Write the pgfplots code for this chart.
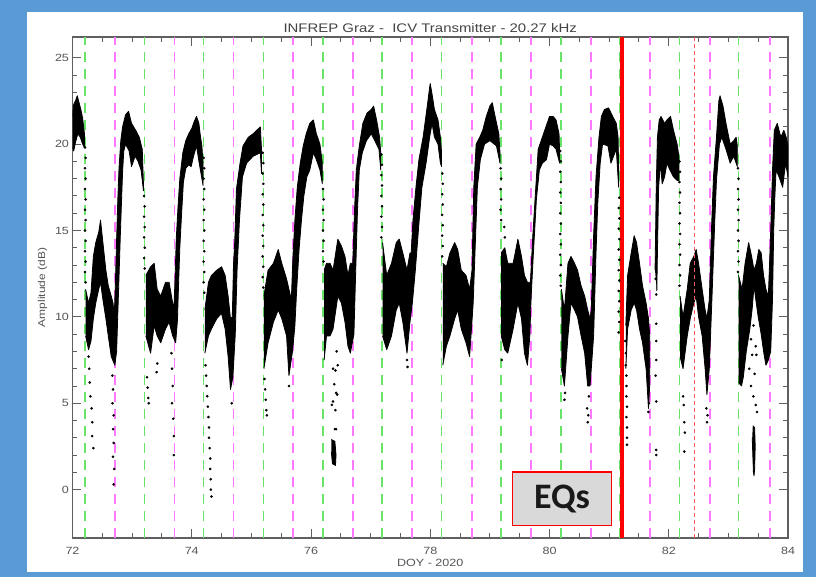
\documentclass[border=0pt]{standalone}
\usepackage{pgfplots}
\pgfplotsset{compat=1.18}
\usepackage{fontspec}
\setmainfont{Liberation Sans}[FakeStretch=1.2]
\newfontfamily\eqfont{Carlito}
\definecolor{frameblue}{RGB}{91,155,213}
\definecolor{vgreen}{RGB}{105,228,105}
\definecolor{vmag}{RGB}{255,120,255}
\definecolor{vred}{RGB}{255,90,90}
\definecolor{txtgray}{RGB}{85,85,85}
\definecolor{axgray}{RGB}{95,95,95}
\definecolor{eqgray}{RGB}{217,217,217}
\begin{document}
\begin{tikzpicture}
\useasboundingbox (0,0) rectangle (816bp,577bp);
\fill[frameblue] (0,0) rectangle (816bp,577bp);
\fill[white] (27bp,5bp) rectangle (803bp,565bp);
\begin{axis}[
  at={(72.5bp,39bp)}, anchor=south west,
  scale only axis, width=715.5bp, height=501bp,
  xmin=72, xmax=84, ymin=-2.8, ymax=26.2,
  xtick={72,74,...,84}, minor x tick num=3,
  ytick={0,5,...,25}, minor y tick num=4,
  tick align=inside,
  major tick length=9bp, minor tick length=5bp,
  axis line style={axgray, line width=1.3bp},
  every tick/.style={axgray, line width=0.9bp},
  /pgf/number format/assume math mode=true,
  ticklabel style={font=\fontsize{10.5}{12}\selectfont, text=txtgray},
  xticklabel style={anchor=center, yshift=-13bp},
  every axis title shift=0pt,
  title={INFREP Graz -\ \ ICV Transmitter - 20.27 kHz},
  title style={at={(axis description cs:0.5,1.017)}, anchor=center, font=\fontsize{12.5}{14}\selectfont, text=txtgray!80!black},
  xlabel={DOY - 2020},
  xlabel style={at={(axis description cs:0.5,-0.05)}, anchor=center, font=\fontsize{10.5}{12}\selectfont, text=txtgray},
  ylabel={Amplitude (dB)},
  ylabel style={at={(axis description cs:-0.042,0.5)}, anchor=center, font=\fontsize{10}{12}\selectfont, text=txtgray},
  band/.style={draw=black, fill=black, line width=0.8bp, line join=round},
  dots/.style={only marks, mark=*, mark size=1.1bp, black},
]
% sunrise / sunset lines
\pgfplotsinvokeforeach{72.21,73.21,74.20,75.20,76.20,77.19,78.19,79.19,80.19,81.18,82.18,83.17}{
  \addplot[vgreen, line width=1.5bp, dash pattern=on 10bp off 7bp] coordinates {(#1,-2.8) (#1,26.2)};
}
\pgfplotsinvokeforeach{72.71,73.71,74.70,75.70,76.70,77.70,78.70,79.69,80.69,81.69,82.69,83.70}{
  \addplot[vmag, line width=1.8bp, dash pattern=on 10bp off 7bp] coordinates {(#1,-2.8) (#1,26.2)};
}
% signal bands
\addplot[band] coordinates {(72.00,21.6) (72.02,22.3) (72.05,22.5) (72.08,22.8) (72.11,22.4) (72.14,22.0) (72.17,21.5) (72.20,20.6) (72.20,19.8) (72.17,20.0) (72.13,20.4) (72.09,20.6) (72.05,20.1) (72.02,19.6) (72.00,19.8)};
\addplot[band] coordinates {(72.22,11.6) (72.27,10.8) (72.31,11.4) (72.35,13.5) (72.39,14.3) (72.44,14.9) (72.47,15.6) (72.51,14.3) (72.56,12.7) (72.60,11.8) (72.65,11.2) (72.68,10.8) (72.70,10.0) (72.72,12.0) (72.74,14.5) (72.76,16.8) (72.78,18.6) (72.81,20.2) (72.84,21.0) (72.89,21.7) (72.94,21.9) (72.99,21.2) (73.06,20.8) (73.12,20.4) (73.17,19.7) (73.19,17.7) (73.19,17.3) (73.15,18.5) (73.10,19.0) (73.05,19.3) (72.99,18.7) (72.95,19.6) (72.89,20.0) (72.86,19.6) (72.84,18.4) (72.82,16.5) (72.80,14.5) (72.78,12.3) (72.76,10.2) (72.74,8.0) (72.71,7.2) (72.65,7.7) (72.60,8.9) (72.56,9.9) (72.51,11.0) (72.47,12.0) (72.44,11.6) (72.39,10.8) (72.35,9.9) (72.31,8.6) (72.27,8.1) (72.22,8.9)};
\addplot[band] coordinates {(73.23,12.4) (73.31,12.9) (73.37,13.1) (73.42,11.6) (73.48,11.2) (73.56,12.0) (73.62,12.0) (73.68,10.8) (73.70,10.4) (73.72,12.2) (73.74,14.5) (73.77,16.4) (73.80,18.0) (73.85,19.5) (73.90,20.2) (73.95,20.6) (74.00,20.9) (74.04,21.3) (74.08,21.6) (74.12,21.2) (74.14,20.6) (74.17,19.9) (74.19,18.8) (74.19,17.6) (74.16,18.2) (74.12,19.0) (74.08,19.9) (74.03,19.3) (73.99,18.7) (73.95,18.8) (73.90,18.6) (73.86,17.8) (73.83,16.0) (73.80,14.0) (73.78,12.0) (73.76,9.8) (73.73,8.5) (73.68,8.9) (73.62,9.7) (73.56,9.3) (73.48,8.5) (73.42,8.9) (73.37,9.5) (73.31,7.9) (73.23,8.9)};
\addplot[band] coordinates {(74.22,10.4) (74.28,12.0) (74.33,12.4) (74.42,12.7) (74.50,12.9) (74.56,12.4) (74.61,11.2) (74.65,9.9) (74.68,10.0) (74.70,13.0) (74.72,14.3) (74.75,17.4) (74.81,18.9) (74.86,19.9) (74.95,20.4) (75.03,20.6) (75.12,20.9) (75.15,21.0) (75.17,19.7) (75.17,18.3) (75.15,19.5) (75.03,19.3) (74.92,18.9) (74.85,18.1) (74.80,15.6) (74.76,12.7) (74.73,9.0) (74.69,6.5) (74.65,5.8) (74.61,7.7) (74.56,9.3) (74.50,10.2) (74.42,9.9) (74.33,9.3) (74.28,8.9) (74.22,7.9)};
\addplot[band] coordinates {(75.21,11.2) (75.28,12.7) (75.37,13.1) (75.45,13.9) (75.51,13.1) (75.59,12.2) (75.63,11.6) (75.67,11.0) (75.70,13.7) (75.73,15.6) (75.77,17.5) (75.82,18.9) (75.87,19.9) (75.92,20.6) (75.98,21.2) (76.04,21.4) (76.09,20.6) (76.15,20.0) (76.19,18.9) (76.19,17.7) (76.15,18.5) (76.09,19.1) (76.04,19.5) (75.98,18.5) (75.93,18.1) (75.88,17.0) (75.84,15.6) (75.80,13.9) (75.76,11.6) (75.73,9.5) (75.69,8.0) (75.63,6.6) (75.59,8.9) (75.51,9.9) (75.45,10.4) (75.37,9.7) (75.28,8.5) (75.21,7.0)};
\addplot[band] coordinates {(76.22,12.7) (76.26,13.1) (76.32,13.1) (76.37,12.7) (76.45,14.5) (76.51,14.1) (76.57,13.5) (76.62,12.4) (76.66,13.1) (76.70,13.1) (76.73,16.2) (76.76,18.5) (76.81,19.9) (76.87,21.2) (76.94,21.8) (77.01,22.0) (77.05,22.2) (77.10,21.4) (77.15,20.4) (77.17,19.5) (77.17,18.5) (77.14,19.7) (77.07,20.2) (77.01,20.6) (76.93,20.2) (76.86,19.5) (76.81,18.5) (76.78,16.2) (76.75,12.7) (76.72,9.0) (76.66,7.9) (76.62,8.3) (76.57,9.7) (76.51,10.8) (76.45,11.2) (76.37,9.3) (76.32,8.9) (76.26,8.9) (76.22,7.5)};
\addplot[band] coordinates {(77.20,14.3) (77.27,12.4) (77.35,13.1) (77.43,14.3) (77.48,14.5) (77.54,13.7) (77.61,12.7) (77.66,13.7) (77.68,13.7) (77.71,15.6) (77.76,17.5) (77.81,19.1) (77.88,20.4) (77.95,22.2) (77.99,23.3) (78.00,23.5) (78.03,22.9) (78.07,22.0) (78.13,21.4) (78.17,20.4) (78.19,19.5) (78.19,18.7) (78.17,18.9) (78.13,20.0) (78.07,20.4) (78.03,21.2) (77.99,20.4) (77.93,18.9) (77.86,17.5) (77.81,15.4) (77.75,12.7) (77.70,10.8) (77.66,9.7) (77.61,7.9) (77.54,9.7) (77.48,10.8) (77.43,10.4) (77.35,8.9) (77.27,8.1) (77.20,8.9)};
\addplot[band] coordinates {(78.21,13.1) (78.27,12.9) (78.33,13.7) (78.41,14.3) (78.46,13.9) (78.52,12.7) (78.60,12.4) (78.66,11.6) (78.70,12.7) (78.73,17.5) (78.77,20.0) (78.83,20.4) (78.88,20.8) (78.94,21.6) (79.00,22.2) (79.04,22.4) (79.10,21.4) (79.15,20.6) (79.17,19.5) (79.17,18.9) (79.11,19.9) (79.00,20.2) (78.91,20.0) (78.84,19.1) (78.79,17.5) (78.75,13.7) (78.72,10.8) (78.66,7.7) (78.60,8.5) (78.52,9.3) (78.46,10.4) (78.41,9.9) (78.33,8.9) (78.27,8.3) (78.21,7.2)};
\addplot[band] coordinates {(79.19,13.7) (79.25,14.0) (79.30,13.1) (79.39,13.1) (79.47,14.5) (79.53,13.5) (79.58,12.4) (79.63,12.0) (79.67,12.0) (79.68,12.0) (79.72,14.7) (79.77,17.5) (79.81,19.7) (79.86,20.2) (79.92,20.8) (79.98,21.4) (80.00,21.6) (80.06,21.6) (80.11,21.4) (80.16,20.6) (80.17,19.5) (80.17,18.9) (80.11,19.7) (80.06,19.9) (80.00,20.0) (79.95,19.1) (79.88,18.9) (79.83,18.5) (79.78,16.8) (79.73,13.7) (79.69,11.0) (79.67,8.9) (79.63,7.2) (79.58,7.9) (79.53,9.9) (79.47,10.8) (79.39,9.3) (79.30,7.9) (79.25,8.1) (79.19,8.9)};
\addplot[band] coordinates {(80.20,11.6) (80.25,10.4) (80.31,13.1) (80.36,13.5) (80.42,13.1) (80.47,12.7) (80.53,11.8) (80.59,11.2) (80.64,10.4) (80.68,9.9) (80.70,10.4) (80.74,14.7) (80.78,18.1) (80.83,20.4) (80.87,21.6) (80.92,22.0) (80.99,22.1) (81.06,21.6) (81.12,21.2) (81.15,20.4) (81.16,18.5) (81.16,17.5) (81.12,19.7) (81.03,18.9) (80.98,19.9) (80.89,20.0) (80.85,18.9) (80.81,16.6) (80.78,13.7) (80.74,8.9) (80.68,6.0) (80.64,6.0) (80.59,7.9) (80.53,8.9) (80.47,10.0) (80.42,10.4) (80.36,10.8) (80.31,8.9) (80.25,6.0) (80.20,7.0)};
\addplot[band] coordinates {(81.28,9.5) (81.31,12.4) (81.37,13.7) (81.42,14.7) (81.46,14.3) (81.51,13.1) (81.56,11.8) (81.62,10.8) (81.66,9.9) (81.68,9.0) (81.68,6.0) (81.66,4.7) (81.62,7.0) (81.56,8.5) (81.51,9.3) (81.46,10.4) (81.42,10.8) (81.37,10.4) (81.31,9.3) (81.28,7.0)};
\addplot[band] coordinates {(81.77,12.7) (81.78,15.0) (81.79,17.5) (81.81,20.4) (81.84,21.4) (81.87,21.6) (81.93,21.2) (81.97,21.4) (82.03,21.6) (82.08,20.8) (82.14,20.0) (82.17,19.3) (82.17,17.9) (82.14,17.9) (82.08,18.1) (82.02,18.5) (81.97,18.9) (81.93,18.1) (81.89,17.7) (81.86,18.9) (81.83,17.5) (81.81,13.7) (81.80,11.5)};
\addplot[band] coordinates {(82.19,11.2) (82.24,10.0) (82.31,11.6) (82.36,13.1) (82.42,13.5) (82.46,13.9) (82.50,13.1) (82.56,11.6) (82.61,10.4) (82.64,9.9) (82.68,11.0) (82.72,15.4) (82.75,18.1) (82.80,20.4) (82.84,22.5) (82.86,22.8) (82.91,22.2) (82.96,21.2) (83.03,20.0) (83.09,20.2) (83.13,20.4) (83.15,19.9) (83.15,18.7) (83.09,19.3) (83.03,18.9) (82.96,19.7) (82.89,20.4) (82.85,20.0) (82.80,17.9) (82.77,15.4) (82.73,11.6) (82.68,7.0) (82.64,5.5) (82.61,7.0) (82.56,8.9) (82.50,10.0) (82.46,11.2) (82.42,10.8) (82.36,9.9) (82.31,8.9) (82.24,7.0) (82.19,7.7)};
\addplot[band] coordinates {(83.17,12.4) (83.23,11.6) (83.28,13.1) (83.34,14.3) (83.39,13.5) (83.43,12.7) (83.47,13.1) (83.51,13.9) (83.55,13.7) (83.59,12.4) (83.63,11.6) (83.67,11.2) (83.69,13.0) (83.71,15.0) (83.74,18.5) (83.77,20.8) (83.82,21.2) (83.88,20.4) (83.93,20.8) (83.97,20.4) (84.00,19.9) (84.00,18.1) (83.96,18.9) (83.91,17.5) (83.85,18.1) (83.80,18.5) (83.78,17.0) (83.76,15.0) (83.74,11.0) (83.71,8.0) (83.67,7.5) (83.63,7.2) (83.59,8.0) (83.55,9.0) (83.50,10.0) (83.46,11.0) (83.43,11.8) (83.40,10.5) (83.36,9.3) (83.30,8.0) (83.25,6.5) (83.22,6.0) (83.17,6.2)};
% dense low clumps
\addplot[band] coordinates {(76.34,2.9) (76.40,2.8) (76.42,2.0) (76.41,1.4) (76.36,1.5) (76.34,2.2)};
\addplot[band] coordinates {(83.41,3.7) (83.44,3.6) (83.45,2.5) (83.44,1.2) (83.43,0.8) (83.42,1.0) (83.41,2.0) (83.40,3.0)};
% sparse points
\addplot[dots] coordinates {
(72.21,19.8) (72.22,19.2) (72.21,18.6) (72.22,18.0) (72.21,17.4) (72.22,16.8) (72.21,16.2) (72.22,15.6) (72.21,15.0) (72.22,14.4) (72.21,13.8) (72.22,13.2) (72.21,12.6) (72.22,12.0)
(72.27,7.7) (72.28,7.0) (72.29,6.2) (72.30,5.4) (72.32,4.7) (72.33,3.9) (72.33,3.1) (72.35,2.4)
(72.67,6.6) (72.68,5.8) (72.67,5.0) (72.69,4.3) (72.68,3.5) (72.69,2.7) (72.68,1.9) (72.70,1.2) (72.69,0.3)
(73.20,17.0) (73.21,16.4) (73.20,15.8) (73.21,15.2) (73.20,14.6) (73.21,14.0) (73.20,13.4) (73.21,12.8)
(73.25,6.5) (73.26,5.9) (73.27,5.3) (73.28,5.0) (73.41,6.8) (73.42,7.3)
(73.66,7.9) (73.67,7.0) (73.68,6.0) (73.67,5.0) (73.69,4.1) (73.70,3.1) (73.70,2.0)
(74.20,19.2) (74.21,18.6) (74.20,18.0) (74.21,17.4) (74.20,16.8) (74.21,16.2) (74.20,15.6) (74.21,15.0) (74.20,14.4) (74.21,13.8) (74.20,13.2) (74.21,12.6) (74.20,12.0) (74.21,11.4)
(74.23,7.2) (74.24,6.6) (74.25,6.0) (74.26,5.4) (74.27,4.8) (74.28,4.2) (74.29,3.6) (74.29,3.0) (74.30,2.4) (74.31,1.8) (74.31,1.2) (74.32,0.6) (74.32,0.0) (74.33,-0.4)
(74.67,5.0)
(75.19,19.5) (75.20,18.9) (75.19,18.3) (75.20,17.7) (75.19,17.1) (75.20,16.5) (75.19,15.9) (75.20,15.3) (75.19,14.7) (75.20,14.1) (75.19,13.5) (75.20,12.9) (75.19,12.3) (75.20,11.7)
(75.22,6.4) (75.23,5.8) (75.24,5.2) (75.25,4.6) (75.26,4.3) (75.63,6.0)
(76.20,17.4) (76.21,16.8) (76.20,16.2) (76.21,15.6) (76.20,15.0) (76.21,14.4) (76.20,13.8) (76.21,13.2)
(76.43,8.0) (76.45,7.2) (76.41,6.9) (76.37,7.0) (76.39,6.1) (76.42,5.6) (76.44,5.5) (76.37,5.1) (76.35,4.9) (76.41,4.6) (76.40,3.5) (76.42,3.5)
(77.18,19.4) (77.19,18.8) (77.18,18.2) (77.19,17.6) (77.18,17.0) (77.19,16.4) (77.18,15.8) (77.19,15.2) (77.18,14.6)
(77.61,7.5) (77.62,7.1)
(78.20,18.3) (78.21,17.7) (78.20,17.1) (78.21,16.5) (78.20,15.9) (78.21,15.3) (78.20,14.7) (78.21,14.1) (78.20,13.5)
(79.18,18.6) (79.19,18.0) (79.18,17.4) (79.19,16.8) (79.18,16.2) (79.19,15.6) (79.24,15.2) (79.25,14.6) (79.20,7.5)
(80.18,19.6) (80.19,19.0) (80.18,18.4) (80.19,17.8) (80.18,17.2) (80.19,16.6) (80.18,16.0) (80.19,15.4) (80.18,14.8) (80.19,14.2) (80.18,13.6) (80.19,13.0) (80.18,12.4) (80.19,11.8)
(80.25,5.2) (80.26,5.6) (80.64,3.9) (80.63,4.7) (80.66,5.4) (80.65,4.3)
(81.17,16.9) (81.16,16.3) (81.17,15.7) (81.16,15.1) (81.17,14.5) (81.16,13.9) (81.17,13.3) (81.16,12.7) (81.17,12.1) (81.16,11.5) (81.17,10.9) (81.16,10.3) (81.17,9.7) (81.16,9.1)
(81.27,8.6) (81.28,7.9) (81.28,7.2) (81.29,6.6) (81.29,6.0) (81.29,5.4) (81.30,4.8) (81.29,4.2) (81.30,3.6) (81.30,3.0) (81.30,2.6)
(81.66,4.5) (81.67,5.0)
(81.79,2.0) (81.79,2.3) (81.79,5.1) (81.78,6.6) (81.79,7.5) (81.79,8.6) (81.79,9.6) (81.79,11.3) (81.78,12.2)
(82.18,19.0) (82.19,18.4) (82.18,17.8) (82.19,17.2) (82.18,16.6) (82.19,16.0) (82.18,15.4) (82.19,14.8) (82.18,14.2) (82.19,13.6) (82.18,13.0) (82.19,12.4) (82.18,11.8)
(82.24,5.4) (82.25,4.9) (82.26,3.9) (82.27,3.3) (82.26,2.2)
(82.64,3.9) (82.63,4.7) (82.65,4.3)
(83.16,18.6) (83.17,18.0) (83.16,17.4) (83.17,16.8) (83.16,16.2) (83.17,15.6) (83.16,15.0) (83.17,14.4) (83.16,13.8) (83.17,13.2) (83.16,12.6)
(83.38,8.7) (83.42,9.5) (83.46,8.3) (83.40,7.8) (83.47,7.8) (83.35,7.0) (83.44,6.7) (83.38,6.0) (83.42,5.4) (83.46,4.9) (83.48,4.5)
};
% event markers
\addplot[red, line width=4bp] coordinates {(81.22,-2.8) (81.22,26.2)};
\addplot[vred, line width=1.1bp, dash pattern=on 4bp off 3bp] coordinates {(82.43,-2.8) (82.43,26.2)};
\draw[red, line width=1.5bp, fill=eqgray] (axis cs:79.38,-2.09) rectangle (axis cs:81.04,1.03);
\node[font=\eqfont\bfseries\fontsize{36}{40}\selectfont, text=black!90] at (axis cs:80.21,-0.55) {EQs};
\end{axis}
\end{tikzpicture}
\end{document}
